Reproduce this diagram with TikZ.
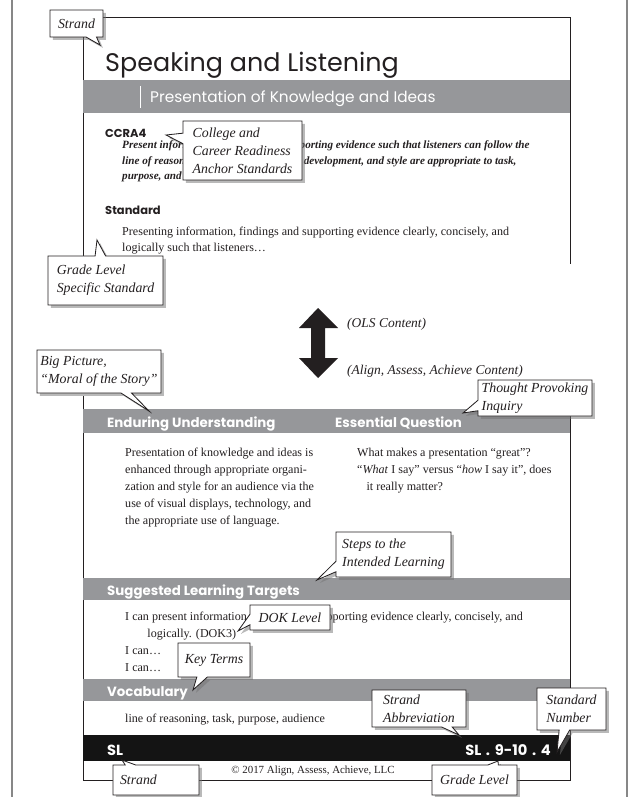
\documentclass[tikz,border=0pt]{standalone}
\usepackage{fontspec}
\setmainfont{Liberation Serif}
\newfontfamily\headfont{Poppins}
\usepackage{xcolor}
\usepackage{tikz}
\usetikzlibrary{shapes.callouts}
\usetikzlibrary{shadows}
\definecolor{bandgray}{RGB}{150,151,154}
\definecolor{inkgray}{RGB}{35,31,32}
\definecolor{framegray}{RGB}{135,135,135}
\def\pxu{0.03cm}
\tikzset{
  bubble/.style={rectangle callout, draw=inkgray, line width=0.7pt, fill=white,
    align=left, inner sep=2pt, text=inkgray, callout pointer width=9pt,
    font=\fontsize{11.8}{15.5}\selectfont\itshape,
    drop shadow={shadow xshift=2.5pt, shadow yshift=-2.5pt, fill=black!55, opacity=0.5}},
  bandtext/.style={anchor=base west, inner sep=0pt, text=white,
    font=\headfont\bfseries\fontsize{11.4}{13}\selectfont},
  sectitle/.style={anchor=base west, inner sep=0pt, text=inkgray,
    font=\headfont\bfseries\fontsize{9.8}{12}\selectfont},
  body/.style={anchor=base west, inner sep=0pt, text=inkgray, align=left,
    font=\fontsize{10.3}{14.5}\selectfont},
  boxline/.style={draw=inkgray, line width=0.8pt}
}
\begin{document}
\begin{tikzpicture}[x=0.03cm, y=-0.03cm]
    \useasboundingbox (0,0) rectangle (636,797);
    %OUTER FRAME
    \draw[framegray, line width=1.5pt] (12,0) -- (12,797);
    \draw[framegray, line width=1.5pt] (627,0) -- (627,797);
    %UPPER PAGE (OLS)
    \draw[boxline] (83,256) -- (83,17) -- (570,17) -- (570,264);
    \node[anchor=base west, inner sep=0pt, text=inkgray, font=\headfont\fontsize{21.7}{26}\selectfont] (title) at (105,72) {Speaking and Listening};
    \fill[bandgray] (83,80) rectangle (570,113);
    \draw[white, line width=0.6pt] (140,86) -- (140,108);
    \node[anchor=base west, inner sep=0pt, text=white, font=\headfont\fontsize{13.1}{15}\selectfont] (domain) at (150,103) {Presentation of Knowledge and Ideas};
    \node[sectitle] (ccra) at (105,138) {CCRA4};
    % multi-line nodes: base = last line
    \node[body, font=\fontsize{9.5}{13.6}\selectfont\bfseries\itshape] (ccratext) at (122,180) {Present information, findings, and supporting evidence such that listeners can follow the\\line of reasoning and the organization, development, and style are appropriate to task,\\purpose, and audience.};
    \node[sectitle] (std) at (105,215) {Standard};
    \node[body] (stdtext) at (122,252) {Presenting information, findings and supporting evidence clearly, concisely, and\\logically such that listeners\dots};
    %MIDDLE ARROW
    \fill[inkgray] (318,308) -- (338,328) -- (325,328) -- (325,358) -- (338,358) -- (318,378)
        -- (299,358) -- (311,358) -- (311,328) -- (299,328) -- cycle;
    \node[anchor=base west, inner sep=0pt, text=inkgray, font=\fontsize{11.5}{14}\selectfont\itshape] (ols) at (347,327) {(OLS Content)};
    \node[anchor=base west, inner sep=0pt, text=inkgray, font=\fontsize{11.5}{14}\selectfont\itshape] (aaa) at (347,374) {(Align, Assess, Achieve Content)};
    %LOWER PAGE (ALIGN, ASSESS, ACHIEVE)
    \draw[boxline] (83,396) -- (83,780) -- (570,780) -- (570,409);
    \fill[bandgray] (83,409) rectangle (570,433);
    \node[bandtext] (eu) at (107,427) {Enduring Understanding};
    \node[bandtext] (eq) at (335,427) {Essential Question};
    \node[body] (eutext) at (125,524) {Presentation of knowledge and ideas is\\enhanced through appropriate organi-\\zation and style for an audience via the\\use of visual displays, technology, and\\the appropriate use of language.};
    \node[body] (eqtext) at (357,490) {What makes a presentation \char"201C great\char"201D?\\\char"201C\textit{What} I say\char"201D{} versus \char"201C\textit{how} I say it\char"201D, does\\\hspace*{8pt}it really matter?};
    \fill[bandgray] (83,578) rectangle (570,600);
    \node[bandtext] (slt) at (107,595) {Suggested Learning Targets};
    \node[body] (slttext) at (125,671) {I can present information, findings and supporting evidence clearly, concisely, and\\\hspace*{19pt}logically. (DOK3)\\I can\dots\\I can\dots};
    \fill[bandgray] (83,679) rectangle (570,701);
    \node[bandtext] (voc) at (107,696) {Vocabulary};
    \node[body] (voctext) at (125,722) {line of reasoning, task, purpose, audience};
    \fill[black!92] (83,735) rectangle (570,761);
    \node[bandtext, font=\headfont\bfseries\fontsize{12.5}{14}\selectfont] (sl) at (107,755) {SL};
    \node[bandtext, anchor=base east, font=\headfont\bfseries\fontsize{12.5}{14}\selectfont] (code) at (551,755) {SL\hspace{4pt}.\hspace{4pt}9-10\hspace{4pt}.\hspace{4pt}4};
    \node[body, anchor=base, font=\fontsize{9.3}{12}\selectfont] (copy) at (313,773) {\char"00A9{} 2017 Align, Assess, Achieve, LLC};
    %CALLOUTS
    \node[bubble, minimum width=53*\pxu, minimum height=27*\pxu, callout absolute pointer={(100,45)}] (strandtop) at (76.5,23.5) {Strand};
    \node[bubble, minimum width=119*\pxu, minimum height=59*\pxu, callout absolute pointer={(166,135)}] (ccrnote) at (242.5,150.5) {College and\\Career Readiness\\Anchor Standards};
    \node[bubble, minimum width=115*\pxu, minimum height=49*\pxu, callout absolute pointer={(97,240)}] (gradenote) at (105.5,280.5) {Grade Level\\Specific Standard};
    \node[bubble, minimum width=124*\pxu, minimum height=43*\pxu, callout absolute pointer={(149,411)}] (bignote) at (99,371.5) {Big Picture,\\\char"201C Moral of the Story\char"201D};
    \node[bubble, minimum width=114*\pxu, minimum height=36*\pxu, callout absolute pointer={(463,413)}] (inqnote) at (535,398) {Thought Provoking\\Inquiry};
    \node[bubble, minimum width=115*\pxu, minimum height=45*\pxu, callout absolute pointer={(317,580)}] (stepnote) at (393.5,554.5) {Steps to the\\Intended Learning};
    \node[bubble, minimum width=80*\pxu, minimum height=25*\pxu, callout absolute pointer={(238,631)}] (doknote) at (290,617.5) {DOK Level};
    \node[bubble, minimum width=72*\pxu, minimum height=34*\pxu, callout absolute pointer={(193,690)}] (keynote) at (214,660) {Key Terms};
    \node[bubble, minimum width=94*\pxu, minimum height=37*\pxu, callout absolute pointer={(459,735)}] (abbrnote) at (419,708.5) {Strand\\Abbreviation};
    \node[bubble, minimum width=69*\pxu, minimum height=42*\pxu, callout absolute pointer={(557,752)}] (numnote) at (571.5,709) {Standard\\Number};
    \node[bubble, inner xsep=6pt, text width=72*\pxu, minimum height=30*\pxu, callout absolute pointer={(122,760)}] (strandbot) at (156,780) {Strand};
    \node[bubble, minimum width=85*\pxu, minimum height=30*\pxu, callout absolute pointer={(498,761)}] (levelnote) at (474.5,780) {Grade Level};
\end{tikzpicture}
\end{document}
